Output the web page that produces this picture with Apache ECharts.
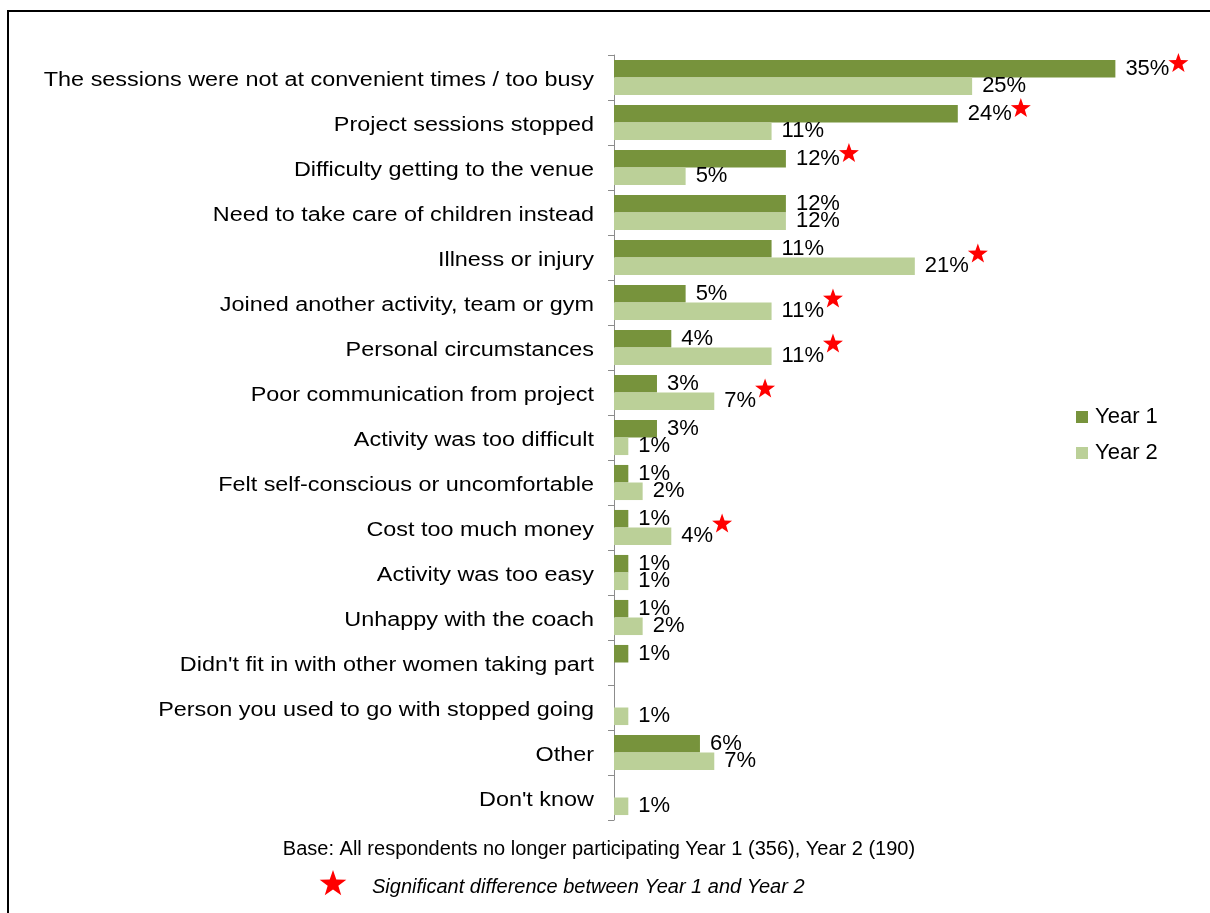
<!DOCTYPE html>
<html>
<head>
<meta charset="utf-8">
<script src="https://cdn.jsdelivr.net/npm/echarts@6/dist/echarts.min.js"></script>
<style>
  html, body { margin: 0; padding: 0; background: #ffffff; }
  #chart { width: 1210px; height: 913px; }
</style>
</head>
<body>
<div id="chart"></div>
<script>
// Reasons for no longer taking part, % of respondents
const categories = [
  'The sessions were not at convenient times / too busy',
  'Project sessions stopped',
  'Difficulty getting to the venue',
  'Need to take care of children instead',
  'Illness or injury',
  'Joined another activity, team or gym',
  'Personal circumstances',
  'Poor communication from project',
  'Activity was too difficult',
  'Felt self-conscious or uncomfortable',
  'Cost too much money',
  'Activity was too easy',
  'Unhappy with the coach',
  "Didn't fit in with other women taking part",
  'Person you used to go with stopped going',
  'Other',
  "Don't know"
];
const seriesNames = ['Year 1', 'Year 2'];
const year1 = [35, 24, 12, 12, 11, 5, 4, 3, 3, 1, 1, 1, 1, 1, null, 6, null];
const year2 = [25, 11, 5, 12, 21, 11, 11, 7, 1, 2, 4, 1, 2, null, 1, 7, 1];
// rows where the two years differ significantly (star follows the higher value)
const starsYear1 = [0, 1, 2];
const starsYear2 = [4, 5, 6, 7, 10];
const baseNote = 'Base: All respondents no longer participating Year 1 (356), Year 2 (190)';
const starNote = 'Significant difference between Year 1 and Year 2';

const FONT = '"Liberation Sans", Arial, Helvetica, sans-serif';
const COLOR_Y1 = '#77933C';
const COLOR_Y2 = '#BBD098';
const STAR_RED = '#FF0000';

const measureCtx = document.createElement('canvas').getContext('2d');
function textWidth(str, size) {
  measureCtx.font = size + 'px ' + FONT;
  return measureCtx.measureText(str).width;
}

function starPoints(cx, cy, r) {
  const pts = [];
  for (let k = 0; k < 10; k++) {
    const rad = k % 2 ? r * 0.4 : r;
    const a = -Math.PI / 2 + k * Math.PI / 5;
    pts.push([cx + rad * Math.cos(a), cy + rad * Math.sin(a)]);
  }
  return pts;
}

const starData = starsYear1.map(i => [year1[i], i, 0])
  .concat(starsYear2.map(i => [year2[i], i, 1]));
const categoryData = categories.map((c, i) => [0, i]);

function renderCategory(params, api) {
  const p = api.coord([0, api.value(1)]);
  return {
    type: 'text',
    x: p[0] - 20,
    y: p[1] + 3,
    scaleX: 1.17,
    style: {
      text: categories[params.dataIndex],
      align: 'right',
      verticalAlign: 'middle',
      fontSize: 20,
      fontFamily: FONT,
      fill: '#000000'
    }
  };
}

function renderStar(params, api) {
  const v = api.value(0);
  const grp = api.value(2);
  const p = api.coord([v, api.value(1)]);
  const dx = 10 + textWidth(v + '%', 22) + 9;
  const dy = grp === 0 ? -14 : -3.5;
  return {
    type: 'polygon',
    shape: { points: starPoints(p[0] + dx, p[1] + dy, 10.5) },
    style: { fill: STAR_RED }
  };
}

const valueLabel = {
  show: true,
  position: 'right',
  distance: 10,
  formatter: '{c}%',
  fontSize: 22,
  fontFamily: FONT,
  color: '#000000'
};

const chart = echarts.init(document.getElementById('chart'), null, { renderer: 'canvas' });
chart.setOption({
  animation: false,
  backgroundColor: '#ffffff',
  grid: { left: 614, top: 55, width: 573, height: 765 },
  xAxis: {
    type: 'value',
    min: 0,
    max: 40,
    show: false
  },
  yAxis: {
    type: 'category',
    data: categories,
    inverse: true,
    axisLine: { show: true, lineStyle: { color: '#8C8C8C', width: 1 } },
    axisTick: { show: true, length: 6, lineStyle: { color: '#8C8C8C' } },
    axisLabel: { show: false },
    splitLine: { show: false }
  },
  legend: {
    data: seriesNames,
    orient: 'vertical',
    left: 1076,
    top: 405,
    padding: 0,
    icon: 'rect',
    itemWidth: 12,
    itemHeight: 12,
    itemGap: 12,
    textStyle: { fontSize: 22, fontFamily: FONT, color: '#000000', lineHeight: 24, padding: [0, 0, 0, 2] }
  },
  series: [
    {
      name: seriesNames[0],
      type: 'bar',
      data: year1,
      barGap: '0%',
      barCategoryGap: '22%',
      itemStyle: { color: COLOR_Y1 },
      label: valueLabel
    },
    {
      name: seriesNames[1],
      type: 'bar',
      data: year2,
      barGap: '0%',
      barCategoryGap: '22%',
      itemStyle: { color: COLOR_Y2 },
      label: valueLabel
    },
    {
      name: 'categories',
      type: 'custom',
      data: categoryData,
      encode: { x: 0, y: 1 },
      renderItem: renderCategory,
      clip: false,
      silent: true,
      z: 5
    },
    {
      name: 'significance',
      type: 'custom',
      data: starData,
      encode: { x: 0, y: 1 },
      renderItem: renderStar,
      clip: false,
      silent: true,
      z: 6
    }
  ],
  graphic: [
    {
      type: 'rect',
      shape: { x: 8, y: 11, width: 1300, height: 1000 },
      style: { fill: null, stroke: '#000000', lineWidth: 2 },
      silent: true
    },
    {
      type: 'text',
      x: 599,
      y: 849,
      style: {
        text: baseNote,
        align: 'center',
        verticalAlign: 'middle',
        fontSize: 20,
        fontFamily: FONT,
        fill: '#000000'
      }
    },
    {
      type: 'polygon',
      shape: { points: starPoints(333, 884, 14) },
      style: { fill: STAR_RED }
    },
    {
      type: 'text',
      x: 372,
      y: 887,
      style: {
        text: starNote,
        align: 'left',
        verticalAlign: 'middle',
        fontSize: 20,
        fontStyle: 'italic',
        fontFamily: FONT,
        fill: '#000000'
      }
    }
  ]
});
</script>
</body>
</html>
